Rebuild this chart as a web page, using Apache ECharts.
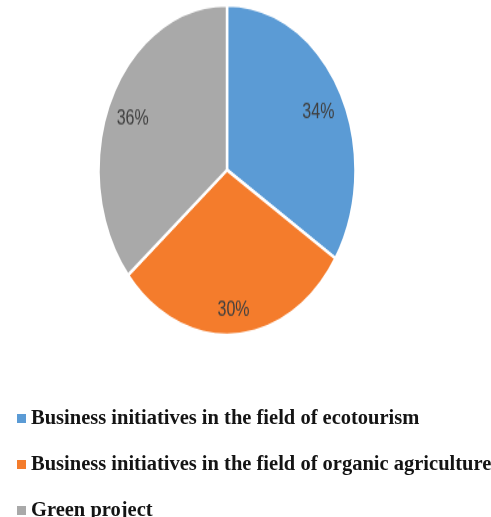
<!DOCTYPE html>
<html>
<head>
<meta charset="utf-8">
<script src="https://cdn.jsdelivr.net/npm/echarts@6/dist/echarts.min.js"></script>
<style>
  html, body { margin: 0; padding: 0; background: #ffffff; }
  #wrap { position: relative; width: 491px; height: 517px; overflow: hidden; }
  #leg { position: absolute; left: 0; top: 0; width: 491px; height: 600px; }
  #pie { position: absolute; left: 0; top: 0; width: 491px; height: 300px;
         transform: scaleY(1.284); transform-origin: 0 0; }
</style>
</head>
<body>
<div id="wrap">
  <div id="leg"></div>
  <div id="pie"></div>
</div>
<script>
// ---- data ----
const categories = [
  'Business initiatives in the field of ecotourism',
  'Business initiatives in the field of organic agriculture',
  'Green project'
];
const values = [34, 30, 36];
const colors = ['#5B9BD5', '#F47C2C', '#A9A9A9'];

const seriesData = categories.map((c, i) => ({ name: c, value: values[i] }));

// ---- pie (stretched vertically to match the elliptical reference) ----
const CX = 227, CY = 132.4, R = 128.5, PUSH = 1.55, DROP = 5;
const pie = echarts.init(document.getElementById('pie'), null, { renderer: 'canvas' });
pie.setOption({
  animation: false,
  color: colors,
  series: [{
    type: 'pie',
    center: [CX, CY],
    radius: [0, R],
    startAngle: 90,
    clockwise: true,
    data: seriesData,
    itemStyle: { borderColor: '#ffffff', borderWidth: 2.5 },
    label: {
      show: true,
      position: 'inside',
      formatter: '{d}%',
      color: '#404040',
      fontSize: 16,
      fontFamily: 'Liberation Sans, Arial, sans-serif'
    },
    labelLine: { show: false },
    labelLayout: function (p) {
      const r = p.labelRect;
      const lx = r.x + r.width / 2, ly = r.y + r.height / 2;
      return {
        x: CX + (lx - CX) * PUSH,
        y: CY + (ly - CY) * PUSH + DROP,
        align: 'center',
        verticalAlign: 'middle'
      };
    }
  }]
});

// ---- legend (unstretched text) ----
const leg = echarts.init(document.getElementById('leg'), null, { renderer: 'canvas' });
leg.setOption({
  animation: false,
  color: colors,
  legend: {
    orient: 'vertical',
    left: 12,
    top: 403,
    icon: 'rect',
    itemWidth: 9,
    itemHeight: 9,
    itemGap: 25,
    selectedMode: false,
    textStyle: {
      fontFamily: 'Liberation Serif, Times New Roman, serif',
      fontWeight: 'bold',
      fontSize: 20.5,
      lineHeight: 21,
      color: '#141414'
    },
    data: categories
  },
  series: [{
    type: 'pie',
    radius: [0, 0],
    center: [-100, -100],
    silent: true,
    label: { show: false },
    labelLine: { show: false },
    data: seriesData
  }]
});
</script>
</body>
</html>
